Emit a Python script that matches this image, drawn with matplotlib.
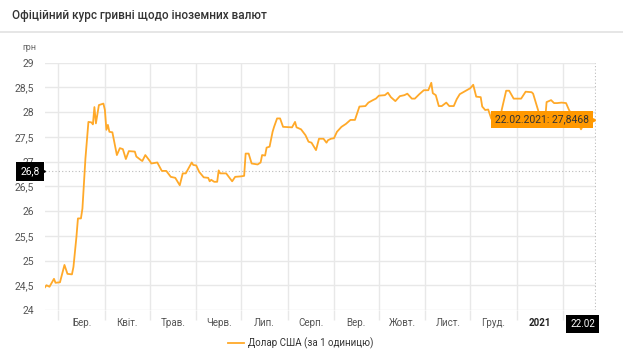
import numpy as np
import matplotlib
matplotlib.use('Agg')
import matplotlib.pyplot as plt
import matplotlib.dates as mdates
import matplotlib.ticker as ticker
import matplotlib.transforms as mtransforms
from matplotlib.lines import Line2D

plt.rcParams['font.family'] = ['Roboto', 'DejaVu Sans']

# курс USD (НБУ), точки
dates = ['2020-02-21', '2020-02-22', '2020-02-24', '2020-02-27', '2020-02-28', '2020-03-02',
         '2020-03-05', '2020-03-07', '2020-03-10', '2020-03-11', '2020-03-13', '2020-03-14',
         '2020-03-16', '2020-03-17', '2020-03-19', '2020-03-21', '2020-03-23', '2020-03-24',
         '2020-03-25', '2020-03-26', '2020-03-28', '2020-03-31', '2020-04-01', '2020-04-02',
         '2020-04-03', '2020-04-04', '2020-04-06', '2020-04-09', '2020-04-11', '2020-04-13',
         '2020-04-15', '2020-04-17', '2020-04-21', '2020-04-22', '2020-04-25', '2020-04-26',
         '2020-04-28', '2020-05-01', '2020-05-02', '2020-05-06', '2020-05-09', '2020-05-12',
         '2020-05-15', '2020-05-18', '2020-05-21', '2020-05-23', '2020-05-25', '2020-05-27',
         '2020-05-29', '2020-05-30', '2020-06-01', '2020-06-03', '2020-06-06', '2020-06-09',
         '2020-06-10', '2020-06-11', '2020-06-13', '2020-06-15', '2020-06-16', '2020-06-17',
         '2020-06-21', '2020-06-25', '2020-06-27', '2020-07-01', '2020-07-03', '2020-07-04',
         '2020-07-06', '2020-07-08', '2020-07-12', '2020-07-14', '2020-07-15', '2020-07-17',
         '2020-07-18', '2020-07-20', '2020-07-22', '2020-07-23', '2020-07-25', '2020-07-27',
         '2020-07-29', '2020-08-04', '2020-08-06', '2020-08-07', '2020-08-10', '2020-08-13',
         '2020-08-15', '2020-08-17', '2020-08-20', '2020-08-22', '2020-08-25', '2020-08-27',
         '2020-08-28', '2020-08-30', '2020-09-01', '2020-09-03', '2020-09-06', '2020-09-09',
         '2020-09-12', '2020-09-15', '2020-09-18', '2020-09-22', '2020-09-24', '2020-09-27',
         '2020-09-29', '2020-10-01', '2020-10-05', '2020-10-07', '2020-10-09', '2020-10-12',
         '2020-10-15', '2020-10-18', '2020-10-20', '2020-10-23', '2020-10-25', '2020-10-28',
         '2020-10-31', '2020-11-03', '2020-11-05', '2020-11-06', '2020-11-08', '2020-11-10',
         '2020-11-12', '2020-11-15', '2020-11-17', '2020-11-20', '2020-11-22', '2020-11-24',
         '2020-11-28', '2020-12-01', '2020-12-03', '2020-12-05', '2020-12-08', '2020-12-09',
         '2020-12-11', '2020-12-13', '2020-12-15', '2020-12-18', '2020-12-20', '2020-12-21',
         '2020-12-22', '2020-12-25', '2020-12-27', '2020-12-30', '2021-01-04', '2021-01-07',
         '2021-01-11', '2021-01-12', '2021-01-15', '2021-01-17', '2021-01-20', '2021-01-21',
         '2021-01-24', '2021-01-26', '2021-01-28', '2021-01-31', '2021-02-03', '2021-02-05',
         '2021-02-06', '2021-02-09', '2021-02-11', '2021-02-13', '2021-02-16', '2021-02-19',
         '2021-02-22']
usd = [24.46, 24.50, 24.47, 24.63, 24.55, 24.56,
       24.91, 24.73, 24.72, 24.87, 25.48, 25.85,
       25.85, 26.05, 27.06, 27.80, 27.79, 27.75,
       28.10, 27.77, 28.14, 28.17, 28.04, 27.64,
       27.74, 27.60, 27.59, 27.13, 27.27, 27.25,
       27.05, 27.21, 27.20, 27.10, 27.03, 27.01,
       27.13, 27.01, 26.96, 26.98, 26.81, 26.81,
       26.69, 26.67, 26.52, 26.76, 26.76, 26.87,
       26.98, 26.93, 26.92, 26.79, 26.68, 26.67,
       26.60, 26.63, 26.59, 26.59, 26.82, 26.76,
       26.76, 26.60, 26.69, 26.70, 26.71, 27.16,
       27.16, 26.96, 26.94, 26.98, 27.13, 27.12,
       27.28, 27.30, 27.60, 27.70, 27.87, 27.87,
       27.70, 27.69, 27.80, 27.69, 27.65, 27.53,
       27.40, 27.38, 27.23, 27.46, 27.46, 27.38,
       27.43, 27.46, 27.47, 27.60, 27.70, 27.76,
       27.84, 27.84, 28.11, 28.12, 28.19, 28.24,
       28.27, 28.33, 28.34, 28.39, 28.30, 28.22,
       28.32, 28.34, 28.37, 28.27, 28.27, 28.36,
       28.44, 28.44, 28.59, 28.38, 28.34, 28.12,
       28.12, 28.19, 28.12, 28.12, 28.26, 28.36,
       28.43, 28.48, 28.55, 28.31, 28.30, 28.11,
       28.04, 28.05, 27.87, 27.74, 27.80, 27.80,
       28.04, 28.43, 28.43, 28.27, 28.27, 28.41,
       28.40, 28.37, 28.07, 27.87, 27.84, 28.20,
       28.24, 28.18, 28.18, 28.19, 28.18, 28.04,
       27.99, 27.92, 27.80, 27.65, 27.82, 27.88,
       27.8468]

month_starts = ['2020-03-01', '2020-04-01', '2020-05-01', '2020-06-01', '2020-07-01', '2020-08-01',
                '2020-09-01', '2020-10-01', '2020-11-01', '2020-12-01', '2021-01-01', '2021-02-01']
month_labels = ['Бер.', 'Квіт.', 'Трав.', 'Черв.', 'Лип.', 'Серп.',
                'Вер.', 'Жовт.', 'Лист.', 'Груд.', '2021']
y_ticks = [24, 24.5, 25, 25.5, 26, 26.5, 27, 27.5, 28, 28.5, 29]
cursor_value = 26.8
last_label = '22.02.2021: 27,8468'

x = mdates.datestr2num(dates)
ms = mdates.datestr2num(month_starts)
mid = (ms[:-1] + ms[1:]) / 2

line_col = '#FFA929'
grid_col = '#e8e8e8'

fig = plt.figure(figsize=(6.23, 3.5), dpi=100)
ax = fig.add_axes([45/623, 1 - 310/350, 551/623, (310 - 62.5)/350])

ax.plot(x, usd, color=line_col, linewidth=1.3, zorder=3)

ax.set_xlim(mdates.datestr2num('2020-02-21'), mdates.datestr2num('2021-02-23'))
ax.set_ylim(24, 29)

ax.yaxis.set_major_locator(ticker.FixedLocator(y_ticks))
ax.yaxis.set_major_formatter(ticker.FuncFormatter(lambda v, p: ('%g' % v).replace('.', ',')))
ax.xaxis.set_major_locator(ticker.FixedLocator(ms))
ax.xaxis.set_major_formatter(ticker.NullFormatter())
ax.xaxis.set_minor_locator(ticker.FixedLocator(mid))
ax.xaxis.set_minor_formatter(ticker.FixedFormatter(month_labels))

ax.tick_params(axis='y', length=0, pad=8, labelsize=7.5, labelcolor='#555')
ax.tick_params(axis='x', which='major', length=7, color=grid_col, width=1)
ax.tick_params(axis='x', which='minor', length=0, pad=6, labelsize=7, labelcolor='#555')
for lbl in ax.xaxis.get_minorticklabels():
    if lbl.get_text() == '2021':
        lbl.set_fontweight('bold')
        lbl.set_color('#222')

ax.grid(which='major', color=grid_col, linewidth=1)
for s in ax.spines.values():
    s.set_visible(False)

# курсор
end_x = x[-1]
ax.axhline(cursor_value, color='#bbb', linestyle=(0, (1, 2)), linewidth=0.8, zorder=2)
ax.axvline(end_x + 0.5, color='#bbb', linestyle=(0, (1, 2)), linewidth=0.8, zorder=2)

trans_y = mtransforms.blended_transform_factory(ax.transAxes, ax.transData)
ax.text(-0.01, cursor_value, '26,8', transform=trans_y, ha='right', va='center',
        fontsize=7.5, color='white',
        bbox=dict(boxstyle='square,pad=0.4', fc='black', ec='none'), clip_on=False, zorder=5)
ax.plot([-0.006], [cursor_value], marker='>', color='black', markersize=4,
        transform=trans_y, clip_on=False, zorder=5)

trans_x = mtransforms.blended_transform_factory(ax.transData, ax.transAxes)
ax.text(end_x + 0.5, -0.055, '22.02', transform=trans_x, ha='right', va='center',
        fontsize=7, color='white',
        bbox=dict(boxstyle='square,pad=0.4', fc='black', ec='none'), clip_on=False, zorder=5)

# підказка
ax.annotate(last_label, xy=(end_x, usd[-1]), xytext=(-4, 0), textcoords='offset points',
            ha='right', va='center', fontsize=7.5, color='#333',
            bbox=dict(boxstyle='square,pad=0.35', fc='#FF9800', ec='none'), zorder=6)
ax.plot([end_x], [usd[-1]], marker='>', color='#FF9800', markersize=4,
        transform=mtransforms.offset_copy(ax.transData, fig=fig, x=-1.5, y=0, units='points'),
        zorder=6, clip_on=False)

# заголовок
fig.text(12/623, 1 - 16/350, 'Офіційний курс гривні щодо іноземних валют',
         fontsize=8.5, color='#333', fontweight='medium', va='center')
fig.add_artist(Line2D([0, 1], [1 - 32/350, 1 - 32/350], color='#e2e2e2', linewidth=1.2))
fig.text(22/623, 1 - 47/350, 'грн', fontsize=6.5, color='#666', va='center')

handle = Line2D([], [], color=line_col, linewidth=1.3)
fig.legend([handle], ['Долар США (за 1 одиницю)'], loc='center',
           bbox_to_anchor=(301/623, 1 - 343/350), frameon=False, fontsize=7,
           handlelength=1.6, handletextpad=0.5, labelcolor='#333')

fig.savefig('out.png', dpi=100, facecolor='white')
